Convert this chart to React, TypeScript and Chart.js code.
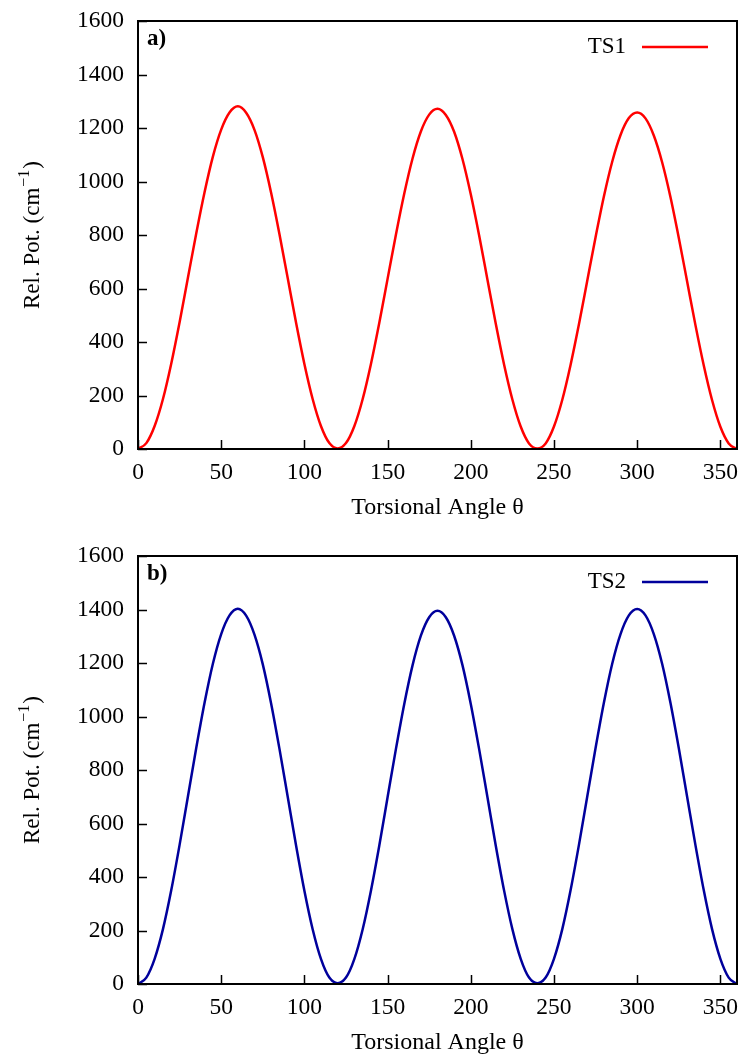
import React, { useEffect, useRef } from 'react';
import { Chart, registerables } from 'chart.js';

Chart.register(...registerables);

const angles = [
  0, 5, 10, 15, 20, 25, 30, 35, 40, 45, 50, 55, 60, 65, 70, 75, 80, 85, 90, 95, 100, 105, 110, 115, 120,
  125, 130, 135, 140, 145, 150, 155, 160, 165, 170, 175, 180, 185, 190, 195, 200, 205, 210, 215, 220, 225, 230, 235, 240,
  245, 250, 255, 260, 265, 270, 275, 280, 285, 290, 295, 300, 305, 310, 315, 320, 325, 330, 335, 340, 345, 350, 355, 360,
];

const ts1Values = [
  0, 22, 86, 187, 320, 474, 640, 806, 960, 1093, 1194, 1258, 1281, 1257, 1193, 1091, 958, 804, 638, 472, 318, 186, 85, 22, 2,
  22, 85, 186, 318, 471, 636, 801, 954, 1086, 1187, 1250, 1272, 1249, 1186, 1084, 952, 799, 634, 469, 316, 185, 84, 21, 2,
  21, 84, 184, 315, 466, 629, 792, 944, 1074, 1174, 1237, 1258, 1236, 1172, 1072, 942, 790, 627, 464, 313, 183, 83, 21, 0,
];

const ts2Values = [
  0, 24, 94, 205, 351, 520, 701, 882, 1051, 1197, 1308, 1378, 1403, 1377, 1306, 1195, 1049, 880, 699, 518, 349, 204, 93, 24, 3,
  24, 93, 204, 349, 517, 698, 878, 1046, 1191, 1302, 1371, 1395, 1371, 1302, 1192, 1047, 879, 699, 518, 350, 205, 94, 24, 3,
  24, 94, 205, 351, 520, 701, 882, 1051, 1197, 1308, 1378, 1402, 1378, 1308, 1197, 1051, 882, 701, 520, 351, 205, 94, 24, 0,
];

const xTicks = [0, 50, 100, 150, 200, 250, 300, 350];
const yTicks = [0, 200, 400, 600, 800, 1000, 1200, 1400, 1600];

const FONT = "'Liberation Serif', 'Times New Roman', serif";

const decorPlugin = {
  id: 'decor',
  afterDraw(chart: any, _args: any, opts: any) {
    const { ctx, chartArea, scales } = chart;
    const { left, top, right, bottom } = chartArea;
    ctx.save();
    ctx.strokeStyle = '#000';
    ctx.lineWidth = 1.5;
    ctx.beginPath();
    for (const v of xTicks) {
      const px = Math.round(scales.x.getPixelForValue(v)) + 0.5;
      ctx.moveTo(px, bottom);
      ctx.lineTo(px, bottom - 9);
    }
    for (const v of yTicks) {
      const py = Math.round(scales.y.getPixelForValue(v)) + 0.5;
      ctx.moveTo(left, py);
      ctx.lineTo(left + 9, py);
    }
    ctx.stroke();
    ctx.lineWidth = 2;
    ctx.strokeRect(left, top, right - left, bottom - top);

    // panel label
    ctx.fillStyle = '#000';
    ctx.font = `bold 23px ${FONT}`;
    ctx.textAlign = 'left';
    ctx.textBaseline = 'alphabetic';
    ctx.fillText(opts.panelLabel, left + 9, top + 24);

    // legend
    const ds = chart.data.datasets[0];
    ctx.font = `23px ${FONT}`;
    ctx.textAlign = 'right';
    ctx.textBaseline = 'middle';
    ctx.fillText(ds.label, 626, top + 26);
    ctx.strokeStyle = ds.borderColor;
    ctx.lineWidth = 2.5;
    ctx.beginPath();
    ctx.moveTo(642, top + 26);
    ctx.lineTo(708, top + 26);
    ctx.stroke();

    // y axis title with superscript
    const cy = (top + bottom) / 2;
    ctx.translate(39, cy);
    ctx.rotate(-Math.PI / 2);
    ctx.fillStyle = '#000';
    ctx.textAlign = 'left';
    ctx.textBaseline = 'alphabetic';
    const mainFont = `23px ${FONT}`;
    const supFont = `16px ${FONT}`;
    const p1 = 'Rel. Pot. (cm';
    const sup = '\u22121';
    const p3 = ')';
    ctx.font = mainFont;
    const w1 = ctx.measureText(p1).width;
    const w3 = ctx.measureText(p3).width;
    ctx.font = supFont;
    const w2 = ctx.measureText(sup).width;
    const total = w1 + w2 + w3 + 2;
    let x = -total / 2;
    ctx.font = mainFont;
    ctx.fillText(p1, x, 0);
    x += w1 + 1;
    ctx.font = supFont;
    ctx.fillText(sup, x, -10);
    x += w2 + 1;
    ctx.font = mainFont;
    ctx.fillText(p3, x, 0);
    ctx.restore();
  },
};

function Panel({ values, label, color, panelLabel, top }: any) {
  const ref = useRef<HTMLCanvasElement>(null);
  useEffect(() => {
    if (!ref.current) return;
    const points = angles.map((a, i) => ({ x: a, y: values[i] }));
    const chart = new Chart(ref.current, {
      type: 'line',
      data: {
        datasets: [
          {
            label,
            data: points,
            borderColor: color,
            borderWidth: 2.5,
            pointRadius: 0,
            fill: false,
            cubicInterpolationMode: 'monotone',
          },
        ],
      },
      options: {
        animation: false,
        responsive: false,
        devicePixelRatio: 1,
        layout: { padding: { left: 0, top: 21, right: 7, bottom: 0 } },
        plugins: {
          legend: { display: false },
          tooltip: { enabled: false },
          decor: { panelLabel },
        } as any,
        scales: {
          x: {
            type: 'linear',
            min: 0,
            max: 360,
            grid: { display: false, drawTicks: false },
            border: { display: false },
            afterBuildTicks: (s: any) => {
              s.ticks = xTicks.map((v) => ({ value: v }));
            },
            afterFit: (s: any) => {
              s.height = 75;
              s.paddingLeft = 0;
              s.paddingRight = 0;
            },
            ticks: {
              autoSkip: false,
              maxRotation: 0,
              padding: 10,
              color: '#000',
              font: { family: FONT, size: 23.5 },
              callback: (v: any) => String(v),
            },
            title: {
              display: true,
              text: 'Torsional Angle \u03b8',
              color: '#000',
              font: { family: FONT, size: 24 },
              padding: { top: 0, bottom: 2 },
            },
          },
          y: {
            type: 'linear',
            min: 0,
            max: 1600,
            grid: { display: false, drawTicks: false },
            border: { display: false },
            afterBuildTicks: (s: any) => {
              s.ticks = yTicks.map((v) => ({ value: v }));
            },
            afterFit: (s: any) => {
              s.width = 138;
              s.paddingTop = 0;
              s.paddingBottom = 0;
            },
            ticks: {
              autoSkip: false,
              padding: 14,
              color: '#000',
              font: { family: FONT, size: 23.5 },
              callback: (v: any) => String(v),
            },
          },
        },
      } as any,
      plugins: [decorPlugin],
    });
    return () => chart.destroy();
  }, [values, label, color, panelLabel]);
  return (
    <div style={{ position: 'absolute', left: 0, top, width: 744, height: 524 }}>
      <canvas ref={ref} width={744} height={524} style={{ width: 744, height: 524, display: 'block' }} />
    </div>
  );
}

export default function App() {
  return (
    <div style={{ position: 'absolute', left: 0, top: 0, width: 744, height: 1059, background: '#fff' }}>
      <Panel values={ts1Values} label="TS1" color="#ff0000" panelLabel="a)" top={0} />
      <Panel values={ts2Values} label="TS2" color="#00009c" panelLabel="b)" top={535} />
    </div>
  );
}
